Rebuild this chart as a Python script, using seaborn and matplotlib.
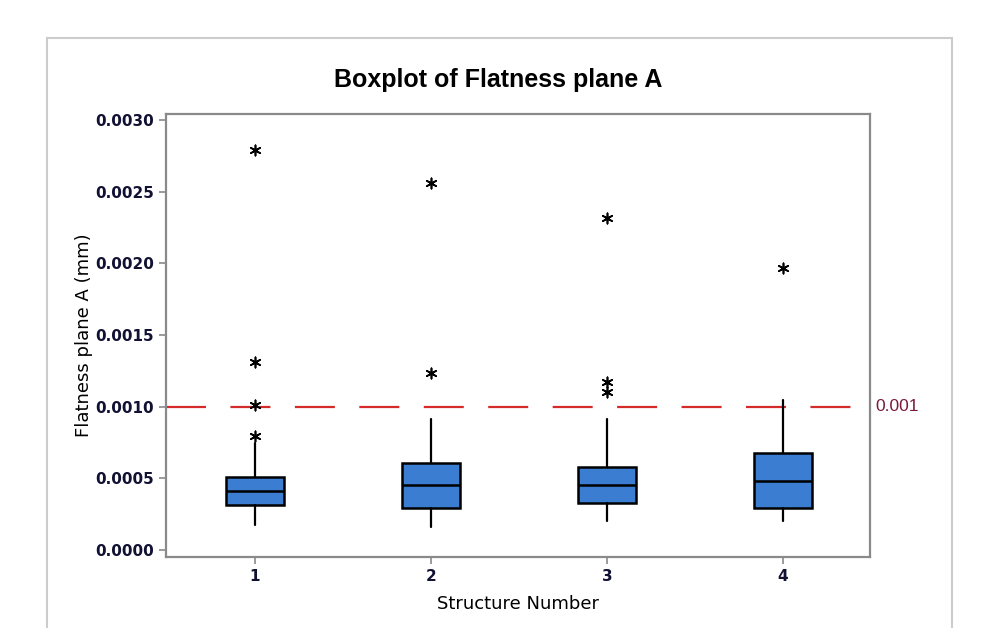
import matplotlib
matplotlib.use("Agg")
import matplotlib.pyplot as plt
from matplotlib.patches import Rectangle
import seaborn as sns

# values (mm)
structures = ["1", "2", "3", "4"]
whisker_low = [0.000174, 0.000160, 0.000202, 0.000202]
q1 = [0.000314, 0.000293, 0.000328, 0.000293]
median = [0.000412, 0.000454, 0.000454, 0.000481]
q3 = [0.000509, 0.000607, 0.000579, 0.000677]
whisker_high = [0.000747, 0.000914, 0.000914, 0.001047]
outliers = [
    [0.000795, 0.001012, 0.001312, 0.002791],
    [0.001235, 0.002560],
    [0.001102, 0.001172, 0.002316],
    [0.001967],
]
limit = 0.001
yticks = [0.0, 0.0005, 0.0010, 0.0015, 0.0020, 0.0025, 0.0030]

sns.set_theme(style="white")
plt.rcParams["font.family"] = ["DejaVu Sans"]

fig = plt.figure(figsize=(10, 6.28), dpi=100)
ax = fig.add_axes([0.166, 0.113, 0.704, 0.7055])

stats = []
for i, name in enumerate(structures):
    stats.append({"label": name, "whislo": whisker_low[i], "q1": q1[i],
                  "med": median[i], "q3": q3[i], "whishi": whisker_high[i],
                  "fliers": []})
pos = list(range(len(structures)))
ax.bxp(stats, positions=pos, widths=0.33, patch_artist=True, showcaps=False,
       boxprops=dict(facecolor="#3a7dd1", edgecolor="black", linewidth=1.8),
       medianprops=dict(color="black", linewidth=1.8),
       whiskerprops=dict(color="black", linewidth=1.6))

ox, oy = [], []
for i, vals in enumerate(outliers):
    ox += [i] * len(vals)
    oy += vals
sns.scatterplot(x=ox, y=oy, marker=(6, 2, 0), s=55, color="black",
                linewidth=1.2, ax=ax, zorder=4)

ax.axhline(limit, color="#d42a2a", lw=1.6, dashes=(18, 11), zorder=1)
ax.text(1.008, limit, "0.001", transform=ax.get_yaxis_transform(),
        ha="left", va="center", color="#7a1a3a", fontsize=12.5,
        family="Liberation Sans")

ax.set_xlim(-0.505, 3.494)
ax.set_ylim(-0.000049, 0.003042)
ax.set_yticks(yticks)
ax.set_yticklabels([f"{v:.4f}" for v in yticks])
ax.set_xticks(pos)
ax.set_xticklabels(structures)

for sp in ax.spines.values():
    sp.set_color("#8a8a8a")
    sp.set_linewidth(1.6)
ax.tick_params(axis="both", direction="out", length=5, width=1.2,
               color="#8a8a8a", labelsize=11, labelcolor="#111133",
               left=True, bottom=True)
for lab in ax.get_xticklabels() + ax.get_yticklabels():
    lab.set_fontweight("bold")

fig.text(0.498, 0.873, "Boxplot of Flatness plane A", fontsize=18,
         fontweight="bold", color="black", ha="center", va="center",
         family="Liberation Sans")
ax.set_xlabel("Structure Number", fontsize=13, color="black", labelpad=8)
ax.set_ylabel("Flatness plane A (mm)", fontsize=13, color="black", labelpad=2)

# light outer frame like the source graph window
fig.add_artist(Rectangle((0.047, -0.1), 0.905, 1.1 - 0.0605,
                         transform=fig.transFigure, fill=False,
                         edgecolor="#cccccc", linewidth=1.5))

fig.savefig("out.png", dpi=100)
